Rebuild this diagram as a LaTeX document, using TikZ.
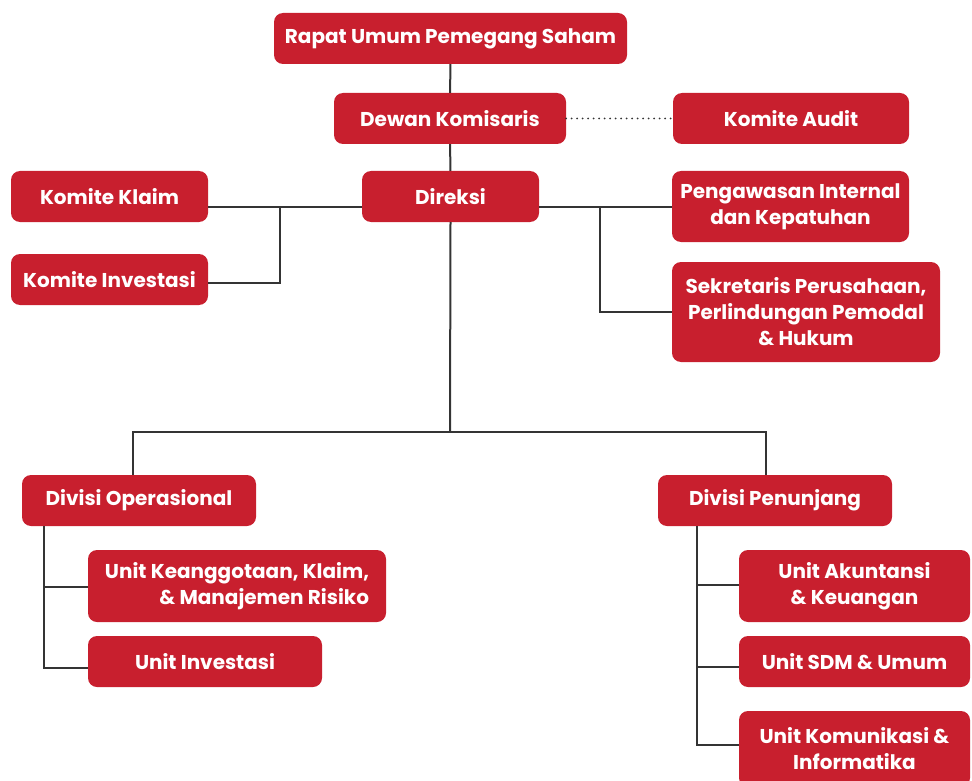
\documentclass[tikz,border=0pt]{standalone}
\usepackage{fontspec}
\setmainfont{Poppins}
\definecolor{boxred}{RGB}{200,31,46}
\definecolor{linegray}{RGB}{52,52,52}
\begin{document}
\begin{tikzpicture}[x=1pt,y=-1pt,
  orgbox/.style={fill=boxred, rounded corners=9pt, text=white, inner sep=0pt,
    align=center, font=\bfseries\fontsize{20}{26}\selectfont},
  conn/.style={draw=linegray, line width=2pt},
  dotconn/.style={draw=linegray, line width=2pt, line cap=round, dash pattern=on 0pt off 5.5pt}]
\useasboundingbox (0,0) rectangle (972,781);
% boxes
\node[orgbox, minimum width=353, minimum height=51] (rups) at (450.5,38.5) {Rapat Umum Pemegang Saham};
\node[orgbox, minimum width=232, minimum height=51] (dk) at (450,118.5) {Dewan Komisaris};
\node[orgbox, minimum width=236, minimum height=51] (audit) at (791,118.5) {Komite Audit};
\node[orgbox, minimum width=177, minimum height=51] (dir) at (450.5,196.5) {Direksi};
\node[orgbox, minimum width=197, minimum height=51] (kk) at (109.5,196.5) {Komite Klaim};
\node[orgbox, minimum width=197, minimum height=51] (ki) at (109.5,279.5) {Komite Investasi};
\node[orgbox, minimum width=237, minimum height=71] (pik) at (790.5,206.5) {Pengawasan Internal\\dan Kepatuhan};
\node[orgbox, minimum width=268, minimum height=100] (sek) at (806,312) {Sekretaris Perusahaan,\\Perlindungan Pemodal\\\& Hukum};
\node[orgbox, minimum width=234, minimum height=51] (dop) at (139,500.5) {Divisi Operasional};
\node[orgbox, minimum width=298, minimum height=72] (uk) at (237,586) {\begin{tabular}{@{}r@{}}Unit Keanggotaan, Klaim,\\\& Manajemen Risiko\end{tabular}};
\node[orgbox, minimum width=234, minimum height=51] (ui) at (205,661.5) {Unit Investasi};
\node[orgbox, minimum width=234, minimum height=51] (dpen) at (775,500.5) {Divisi Penunjang};
\node[orgbox, minimum width=231, minimum height=72] (ua) at (854.5,586) {Unit Akuntansi\\\& Keuangan};
\node[orgbox, minimum width=231, minimum height=51] (usdm) at (854.5,661.5) {Unit SDM \& Umum};
\node[orgbox, minimum width=231, minimum height=76] (ukom) at (854.5,749) {Unit Komunikasi \&\\Informatika};
% junction coordinates
\coordinate (jl) at (280,207);
\coordinate (jli) at (280,283);
\coordinate (jr) at (600,207);
\coordinate (jrs) at (600,312);
\coordinate (jd) at (450,432);
\coordinate (jdl) at (133,432);
\coordinate (jdr) at (766,432);
\coordinate (sl) at (44,526);
\coordinate (slk) at (44,587);
\coordinate (sli) at (44,668);
\coordinate (sr) at (697,526);
\coordinate (sra) at (697,585);
\coordinate (srs) at (697,667);
\coordinate (srk) at (697,745);
% connectors
\draw[conn] (rups) -- (dk);
\draw[conn] (dk) -- (dir);
\draw[dotconn] (dk.east) -- (audit.west);
\draw[conn] (kk.east |- jl) -- (dir.west |- jl);
\draw[conn] (jl) -- (jli) -- (ki.east |- jli);
\draw[conn] (dir.east |- jr) -- (pik.west |- jr);
\draw[conn] (jr) -- (jrs) -- (sek.west |- jrs);
\draw[conn] (dir.south) -- (jd);
\draw[conn] (dop.north -| jdl) -- (jdl) -- (jdr) -- (dpen.north -| jdr);
\draw[conn] (sl) -- (sli) -- (ui.west |- sli);
\draw[conn] (slk) -- (uk.west |- slk);
\draw[conn] (sr) -- (srk) -- (ukom.west |- srk);
\draw[conn] (sra) -- (ua.west |- sra);
\draw[conn] (srs) -- (usdm.west |- srs);
\end{tikzpicture}
\end{document}
